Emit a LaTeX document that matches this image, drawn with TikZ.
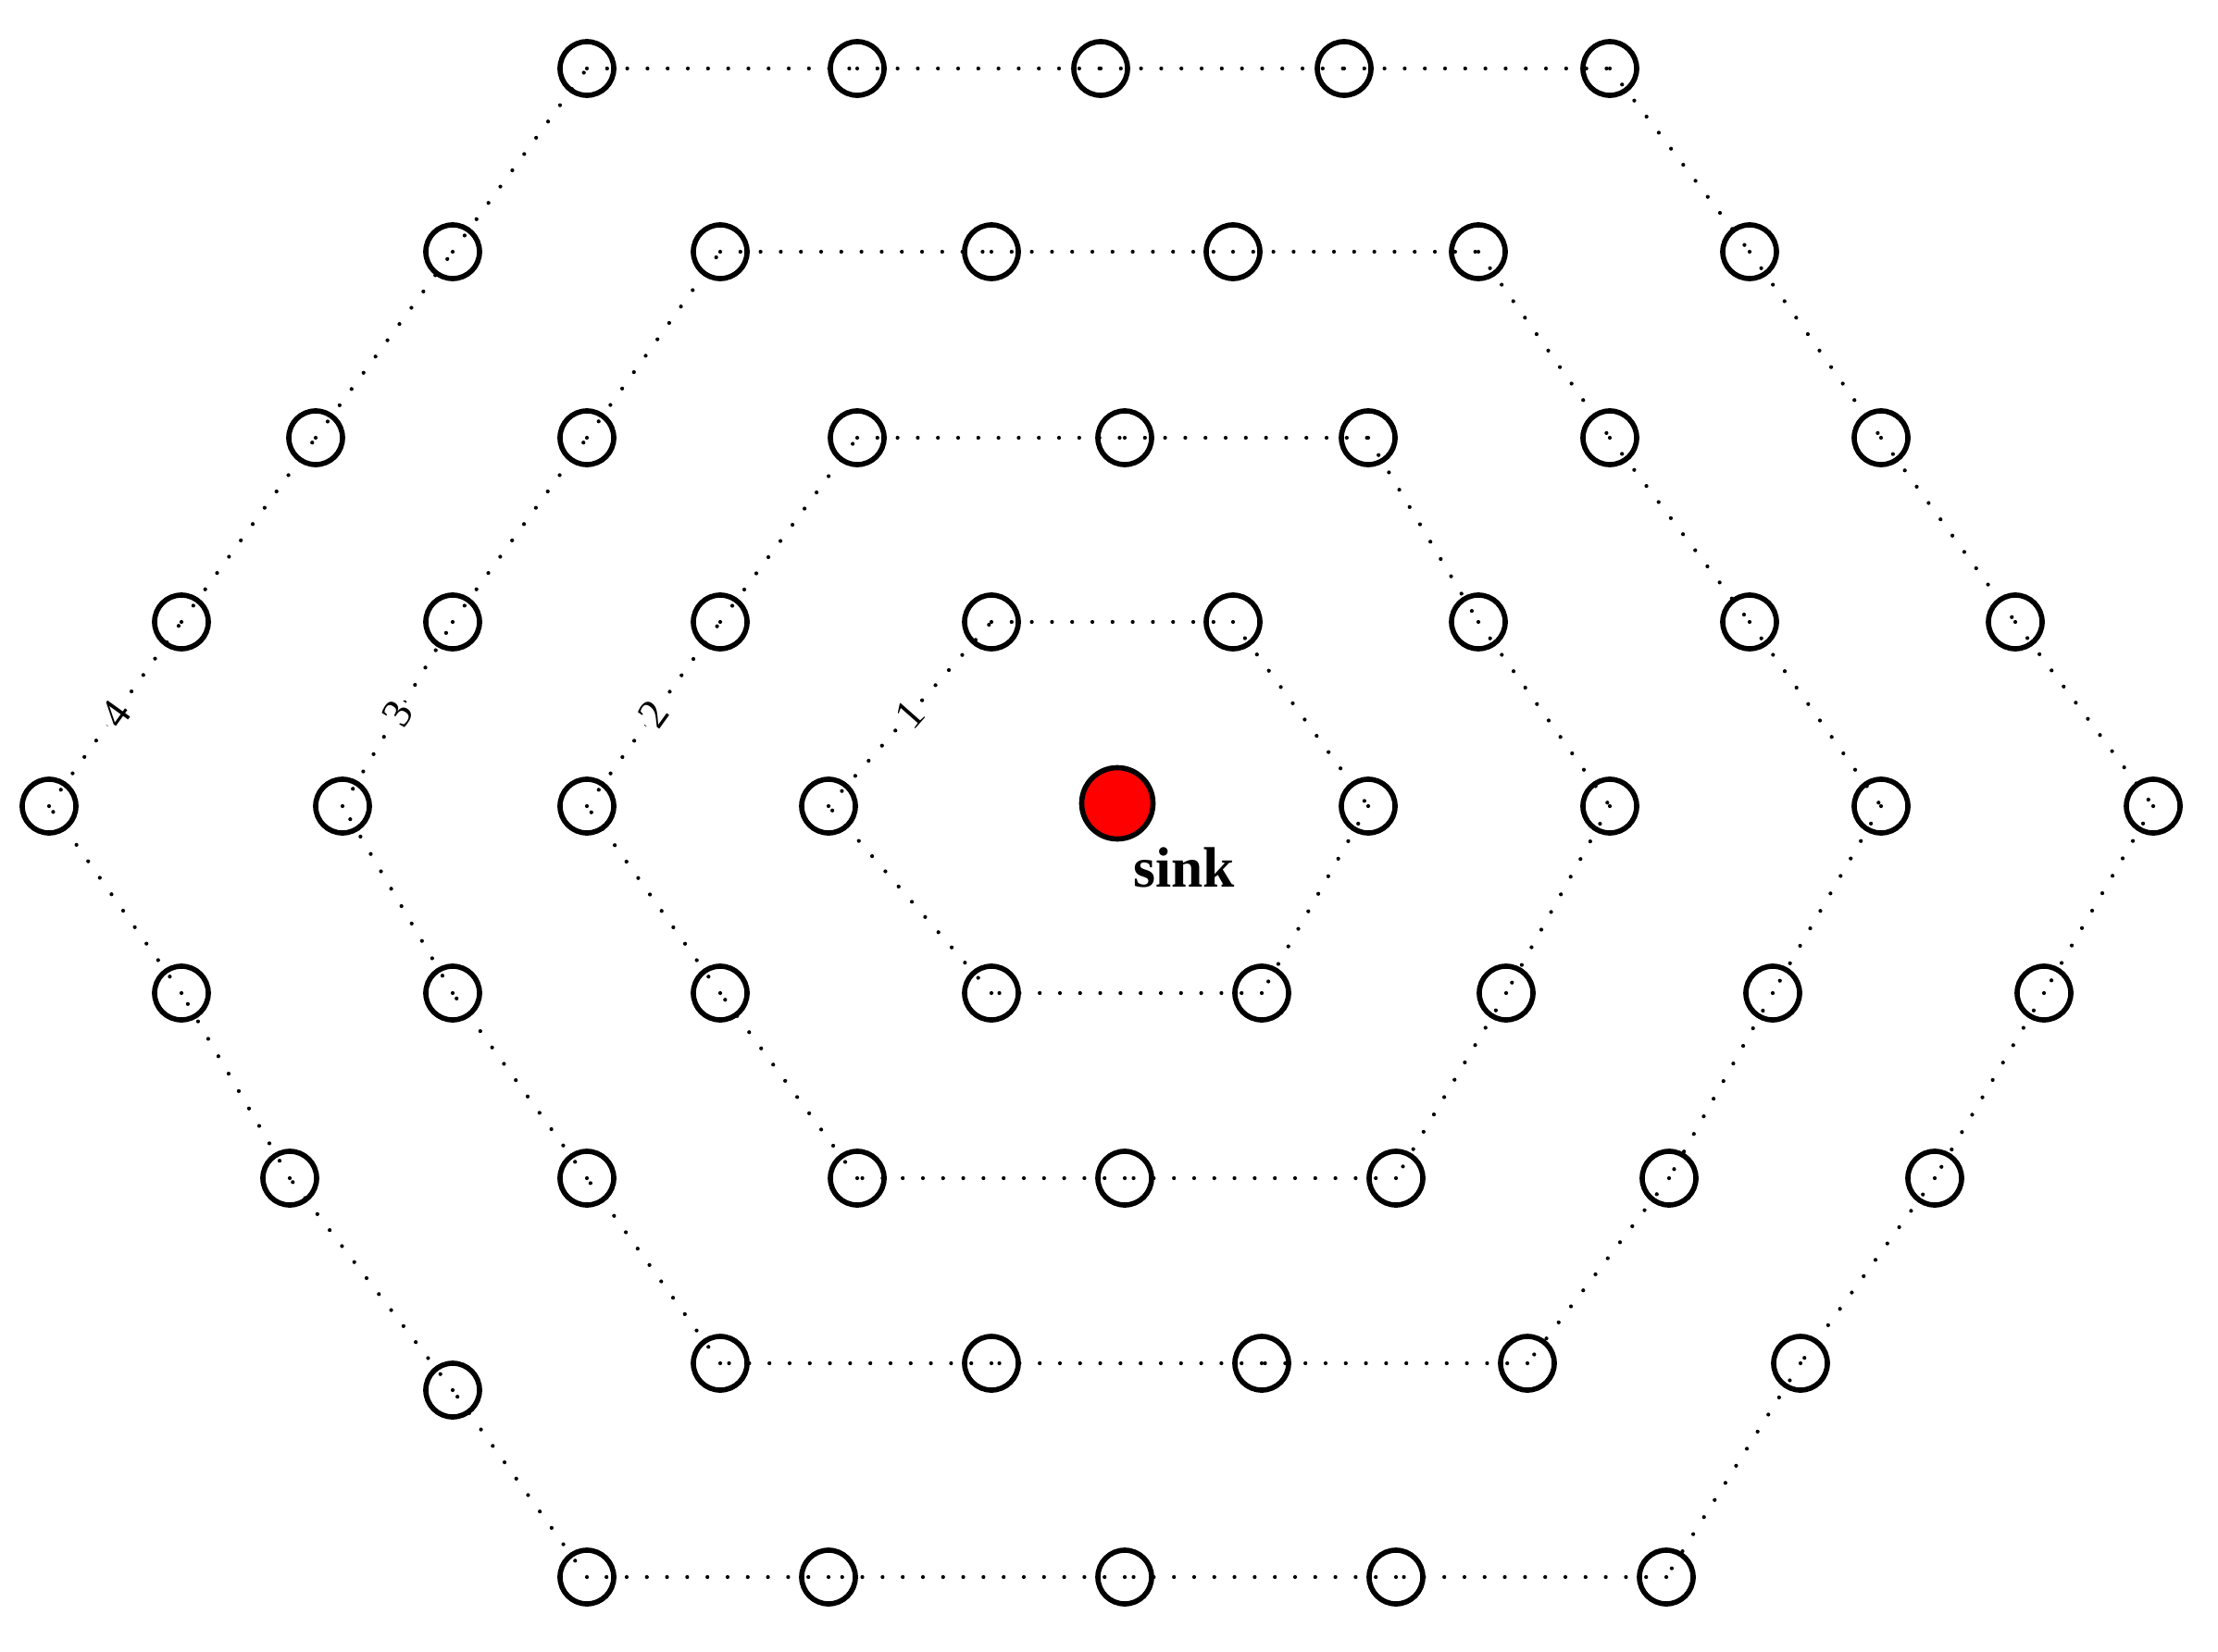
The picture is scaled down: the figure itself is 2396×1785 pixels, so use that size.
\documentclass[tikz,border=0pt]{standalone}
\usepackage{fontspec}
\setmainfont{Liberation Serif}
\usetikzlibrary{positioning}

\begin{document}
\begin{tikzpicture}[x=0.01cm, y=-0.01cm,
    mote/.style={draw, circle, line width=1.6pt, minimum size=0.58cm, inner sep=0pt},
    sinknode/.style={draw, circle, line width=1.6pt, minimum size=0.77cm, inner sep=0pt, fill=red},
    link/.style={line width=1.2pt, line cap=round, dash pattern=on 0pt off 6.2pt},
    hop/.style={midway, sloped, fill=white, inner sep=1pt, font=\fontsize{13}{15}\selectfont}]
  \useasboundingbox (0,0) rectangle (2396,1785);

  % Sink
  \node[sinknode] (sink) at (1207,868) {};
  \node[inner sep=0pt, font=\fontsize{17.5}{20}\selectfont\bfseries] (sinktext) at (1279,937) {sink};

  % Ring 1
  \foreach \x/\y [count=\i] in {895/871, 1071/672, 1332/672, 1478/871, 1363/1073, 1071/1073}
    \node[mote] (r1-\i) at (\x,\y) {};
  \foreach \i [remember=\i as \j (initially 6)] in {1,...,6}
    \draw[link] (r1-\j.center) -- (r1-\i.center);

  % Ring 2
  \foreach \x/\y [count=\i] in {634/871, 778/672, 926/473, 1215/473, 1478/473, 1597/672,
      1739/871, 1627/1073, 1508/1273, 1215/1273, 926/1273, 778/1073}
    \node[mote] (r2-\i) at (\x,\y) {};
  \foreach \i [remember=\i as \j (initially 12)] in {1,...,12}
    \draw[link] (r2-\j.center) -- (r2-\i.center);

  % Ring 3
  \foreach \x/\y [count=\i] in {370/871, 489/672, 634/473, 778/272, 1071/272, 1332/272,
      1597/272, 1739/473, 1890/672, 2032/871, 1915/1073, 1803/1273,
      1650/1473, 1363/1473, 1071/1473, 778/1473, 634/1273, 489/1073}
    \node[mote] (r3-\i) at (\x,\y) {};
  \foreach \i [remember=\i as \j (initially 18)] in {1,...,18}
    \draw[link] (r3-\j.center) -- (r3-\i.center);

  % Ring 4
  \foreach \x/\y [count=\i] in {53/871, 196/672, 341/473, 489/272, 634/74, 926/74,
      1189/74, 1452/74, 1739/74, 1890/272, 2032/473, 2177/672,
      2326/871, 2208/1073, 2090/1273, 1945/1473, 1800/1704, 1508/1704,
      1215/1704, 895/1704, 634/1704, 489/1502, 313/1273, 196/1073}
    \node[mote] (r4-\i) at (\x,\y) {};
  \foreach \i [remember=\i as \j (initially 24)] in {1,...,24}
    \draw[link] (r4-\j.center) -- (r4-\i.center);

  % Hop counts
  \foreach \k in {1,2,3,4}
    \path (r\k-1.center) -- (r\k-2.center) node[hop] (hop\k) {\k};
\end{tikzpicture}
\end{document}
